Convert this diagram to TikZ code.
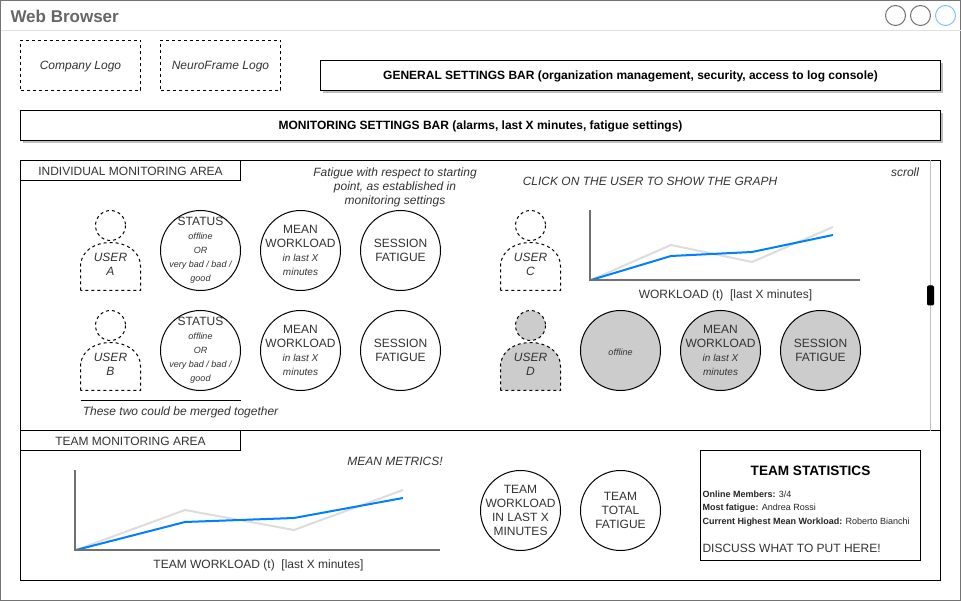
\documentclass[tikz,border=0pt]{standalone}
\usepackage{fontspec}
\setmainfont{Liberation Sans}
\usetikzlibrary{shadows}
\colorlet{off}{black!20}
\definecolor{bluel}{RGB}{0,127,255}
\definecolor{greyl}{RGB}{221,221,221}
\definecolor{axisl}{RGB}{112,112,112}
\newcommand{\nineit}[1]{{\fontsize{9}{14}\selectfont\itshape #1}}
\newcommand{\smallit}[1]{{\fontsize{10}{14}\selectfont\itshape #1}}

\begin{document}
\begin{tikzpicture}[x=1pt,y=-1pt,line width=1pt]
\tikzstyle{txt}=[text=black!80,inner sep=0pt,align=center,font=\fontsize{12}{14}\selectfont,execute at begin node={\rule{0pt}{11pt}}]
\tikzstyle{note}=[txt,font=\fontsize{12}{14}\selectfont\itshape]
\tikzstyle{logo}=[note,draw=black,text=black!80,dash pattern=on 3pt off 3pt,minimum width=120pt,minimum height=50pt]
\tikzstyle{bar}=[draw=black,fill=white,inner sep=0pt,font=\fontsize{12}{14}\selectfont\bfseries,minimum height=30pt,execute at begin node={\rule{0pt}{11pt}},drop shadow={shadow xshift=2pt,shadow yshift=-3pt,fill=black!25,opacity=1}]
\tikzstyle{tab}=[txt,draw=black,fill=white,minimum width=220pt,minimum height=20pt]
\tikzstyle{metric}=[txt,circle,draw=black,inner sep=-20pt,minimum size=80pt]
\tikzstyle{metrictall}=[metric,execute at begin node={\rule{0pt}{13pt}}]
\tikzstyle{metricoff}=[metric,fill=off]
\tikzstyle{button}=[circle,draw=axisl,minimum size=20pt,inner sep=0pt]
\tikzstyle{person}=[note]
\tikzstyle{axis}=[draw=axisl,line width=2pt]
\tikzstyle{lightline}=[draw=greyl,line width=2pt]
\tikzstyle{blueline}=[draw=bluel,line width=2pt]
\tikzset{userfig/.pic={
  \path[pic actions] (-30,50) -- (-30,26) .. controls (-30,10) and (-15,2) .. (0,2) .. controls (15,2) and (30,10) .. (30,26) -- (30,50) -- cycle;
  \path[pic actions] (0,-15) circle (15);
}}
\useasboundingbox (0,0) rectangle (961,601);

\draw[draw=black!55,fill=white] (0.5,0.5) rectangle (960.5,600.5);
\draw[draw=black!12] (0.5,30.5) -- (960.5,30.5);
\node [anchor=west,inner sep=0pt,text=black!60,font=\fontsize{17}{18}\selectfont\bfseries] (title) at(10,16) {Web Browser};
\node [button] (btn1) at(895.5,15.5) {};
\node [button] (btn2) at(920.5,15.5) {};
\node [button,draw=bluel!50] (btn3) at(945.5,15.5) {};

\node [logo] (companylogo) at(80.5,65.5) {Company Logo};
\node [logo] (frameworklogo) at(220.5,65.5) {NeuroFrame Logo};
\node [bar,minimum width=620pt] (generalbar) at(630.5,75.5) {GENERAL SETTINGS BAR (organization management, security, access to log console)};
\node [bar,minimum width=920pt] (monitorbar) at(480.5,125.5) {MONITORING SETTINGS BAR (alarms, last X minutes, fatigue settings)};

\node [draw=black,minimum width=920pt,minimum height=270pt,inner sep=0pt] (indarea) at(480.5,295.5) {};
\node [draw=black,minimum width=920pt,minimum height=150pt,inner sep=0pt] (teamarea) at(480.5,505.5) {};
\node [tab] (indtab) at(130.5,170.5) {INDIVIDUAL MONITORING AREA};
\node [tab] (teamtab) at(130.5,440.5) {TEAM MONITORING AREA};

\coordinate (scrolltop) at(930.5,160.5);
\coordinate (scrollend) at(930.5,430.5);
\draw[draw=black!25] (scrolltop) -- (scrollend);
\node [draw=black,fill=black,rounded corners=1pt,minimum width=6pt,minimum height=19pt,inner sep=0pt] (scrollthumb) at(930.5,295.5) {};
\node [note] (scrolltxt) at(905,171) {scroll};

\node [note] (fatiguenote) at(395,187) {Fatigue with respect to starting\\point, as established in\\monitoring settings};
\node [note] (clicknote) at(650,180) {CLICK ON THE USER TO SHOW THE GRAPH};

% users
\pic [draw=black,dash pattern=on 3pt off 3pt] at(110.5,240.5) {userfig};
\node [person] (usera) at(110.5,264) {USER\\A};
\pic [draw=black,dash pattern=on 3pt off 3pt] at(110.5,340.5) {userfig};
\node [person] (userb) at(110.5,364) {USER\\B};
\pic [draw=black,dash pattern=on 3pt off 3pt] at(530.5,240.5) {userfig};
\node [person] (userc) at(530.5,264) {USER\\C};
\pic [draw=black,fill=off,dash pattern=on 3pt off 3pt] at(530.5,340.5) {userfig};
\node [person] (userd) at(530.5,364) {USER\\D};

% metrics
\node [metrictall] (statusa) at(200.5,250.5) {STATUS\\\nineit{offline}\\\nineit{OR}\\\nineit{very bad / bad /}\\\nineit{good}};
\node [metrictall] (workloada) at(300.5,250.5) {MEAN\\WORKLOAD\\\smallit{in last X}\\\smallit{minutes}};
\node [metric] (fatiguea) at(400.5,250.5) {SESSION\\FATIGUE};
\node [metrictall] (statusb) at(200.5,350.5) {STATUS\\\nineit{offline}\\\nineit{OR}\\\nineit{very bad / bad /}\\\nineit{good}};
\node [metrictall] (workloadb) at(300.5,350.5) {MEAN\\WORKLOAD\\\smallit{in last X}\\\smallit{minutes}};
\node [metric] (fatigueb) at(400.5,350.5) {SESSION\\FATIGUE};
\node [metricoff] (statusd) at(620.5,350.5) {\nineit{offline}};
\node [metrictall,fill=off] (workloadd) at(720.5,350.5) {MEAN\\WORKLOAD\\\smallit{in last X}\\\smallit{minutes}};
\node [metricoff] (fatigued) at(820.5,350.5) {SESSION\\FATIGUE};

\coordinate (mergeleft) at(80.5,400.5);
\coordinate (mergeright) at(240.5,400.5);
\draw (mergeleft) -- (mergeright);
\node [note] (mergenote) at(180.5,411) {These two could be merged together};

% user graph
\path[lightline] (591,280) -- (671,245) -- (752,262) -- (833,227);
\path[blueline] (591,280) -- (671,256) -- (752,252) -- (833,235);
\path[axis] (590,210) -- (590,280) -- (860,280);
\node [txt] (usergraph) at(725.5,294) {WORKLOAD (t)~~[last X minutes]};

% team graph
\path[lightline] (76,550) -- (185,510) -- (294,530) -- (403,490);
\path[blueline] (76,550) -- (185,522) -- (294,518) -- (403,498);
\path[axis] (75,470) -- (75,550) -- (440,550);
\node [txt] (teamgraph) at(258.5,564) {TEAM WORKLOAD (t)~~[last X minutes]};
\node [note] (meannote) at(395,460) {MEAN METRICS!};

\node [metric] (teamworkload) at(520.5,510.5) {TEAM\\WORKLOAD\\IN LAST X\\MINUTES};
\node [metric] (teamfatigue) at(620.5,510.5) {TEAM\\TOTAL\\FATIGUE};

\node [draw=black,minimum width=220pt,minimum height=110pt,inner sep=0pt] (statsbox) at(810.5,505.5) {};
\node [inner sep=0pt,font=\fontsize{13.6}{14}\selectfont\bfseries] (statstitle) at(810.5,471) {TEAM STATISTICS};
\node [anchor=west,inner sep=0pt,text=black!85,font=\fontsize{9}{14}\selectfont] (statsonline) at(702,494) {\textbf{Online Members:} 3/4};
\node [anchor=west,inner sep=0pt,text=black!85,font=\fontsize{9}{14}\selectfont] (statsmost) at(702,508) {\textbf{Most fatigue:} Andrea Rossi};
\node [anchor=west,inner sep=0pt,text=black!85,font=\fontsize{9}{14}\selectfont] (statshigh) at(702,522) {\textbf{Current Highest Mean Workload:} Roberto Bianchi};
\node [txt,anchor=west] (statsdiscuss) at(702,547) {DISCUSS WHAT TO PUT HERE!};
\end{tikzpicture}
\end{document}
